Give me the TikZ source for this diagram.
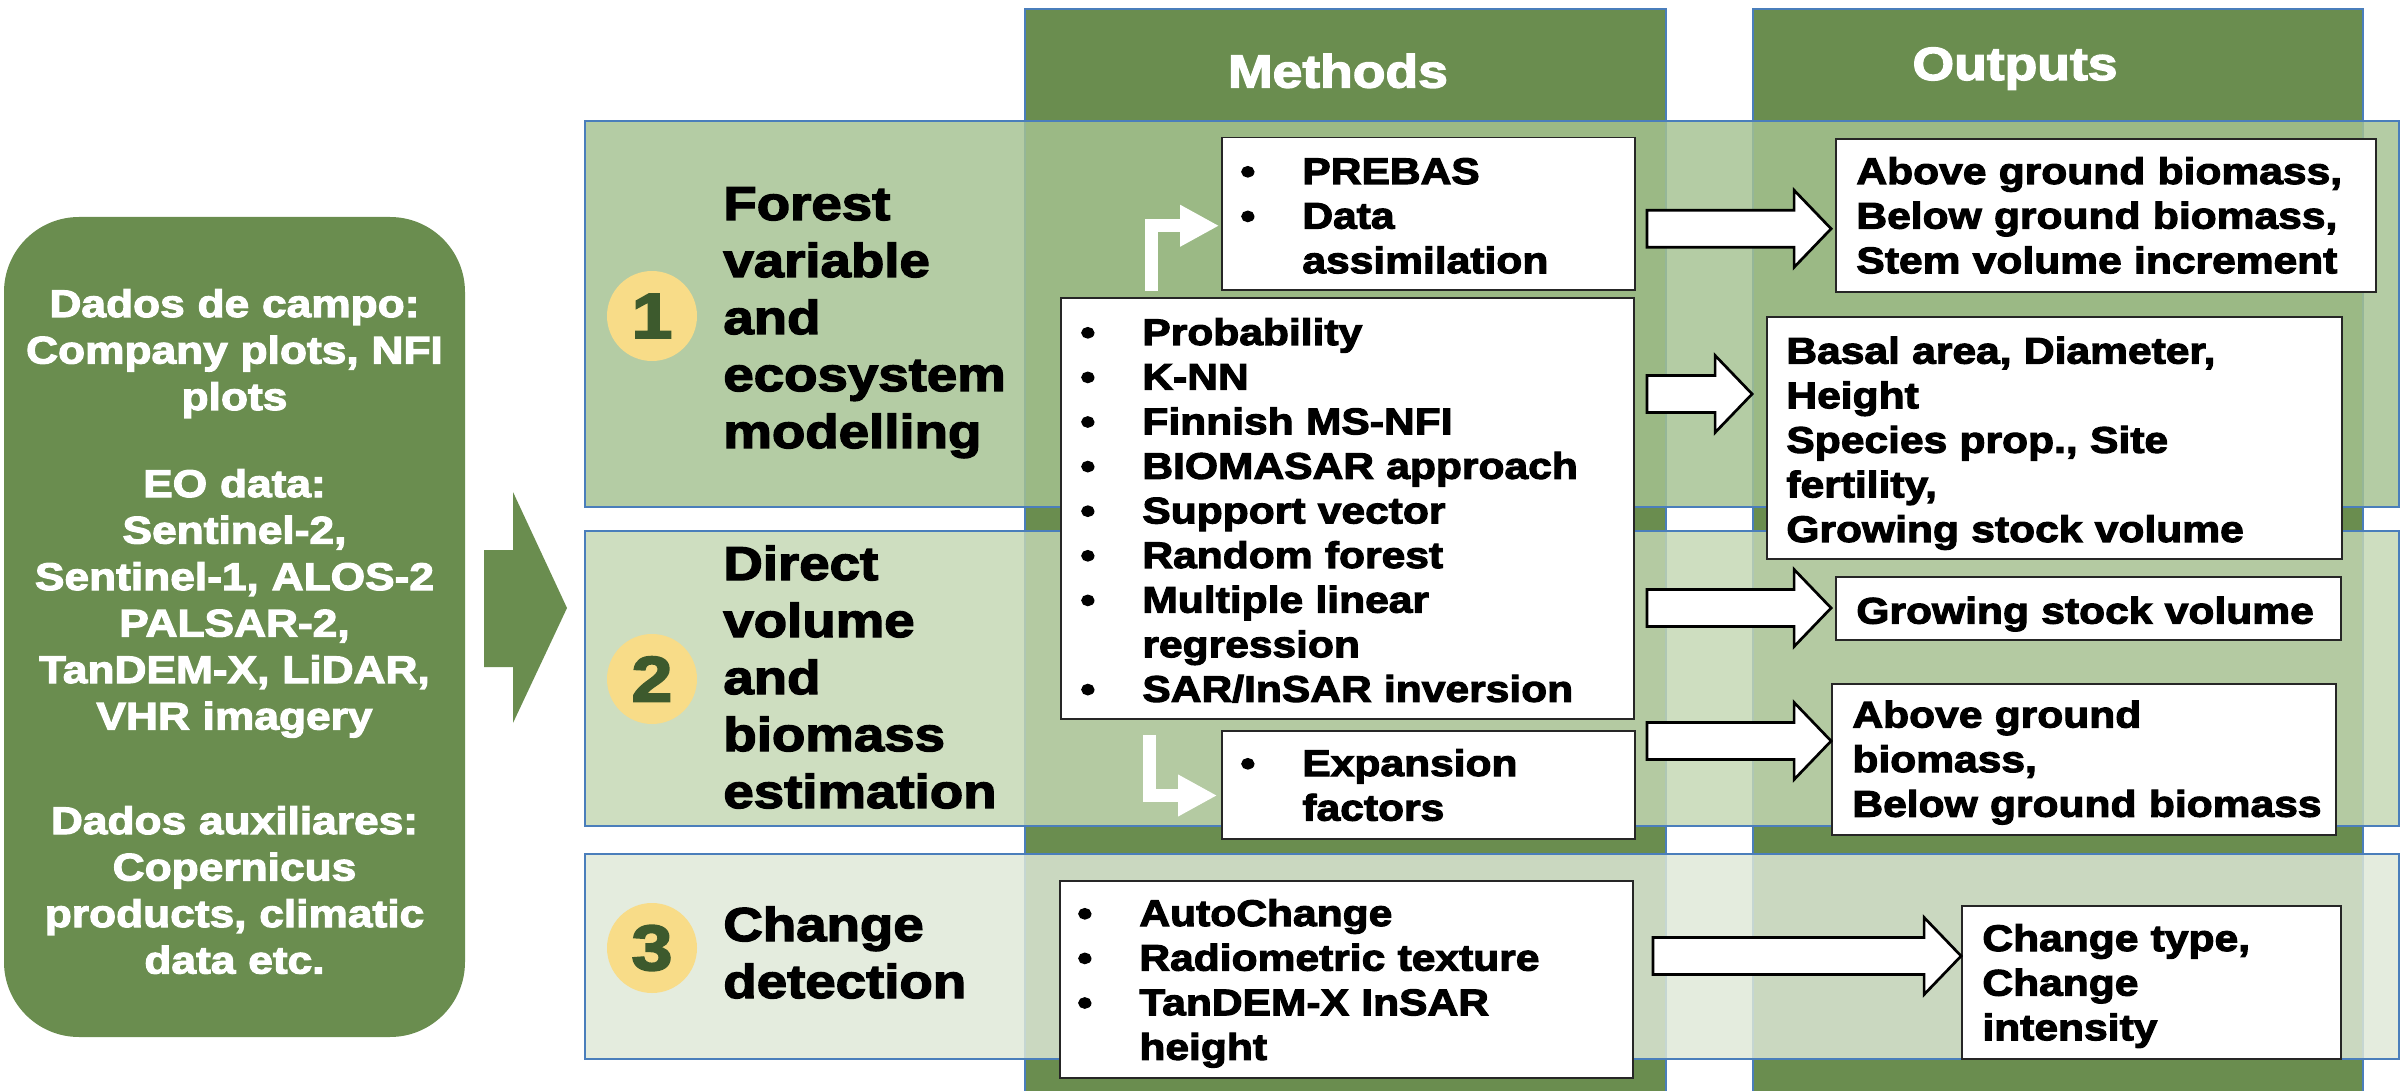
\documentclass[tikz,border=0pt]{standalone}
\usepackage{fontspec}
\setmainfont{Liberation Sans}[FakeStretch=1.15, FakeBold=3]
\usetikzlibrary{calc,fit,arrows.meta}

\definecolor{dgreen}{HTML}{6A8D4F}
\definecolor{bandblue}{HTML}{4A7EBB}
\definecolor{rowA}{RGB}{165,194,145}
\definecolor{rowB}{RGB}{196,215,179}
\definecolor{rowC}{RGB}{222,232,215}
\definecolor{numyellow}{HTML}{F8DC88}
\definecolor{numgreen}{HTML}{3D5A2D}

% bulleted line and its continuation
\newcommand\bl[1]{\makebox[31pt][l]{\textbullet}#1}
\newcommand\cl[1]{\hspace*{31pt}#1}

% white block arrow from #1 (tail) to #2 (tip), both at the same height
\newcommand\blockarrow[2]{%
  \draw[barrow] let \p1=(#1), \p2=(#2) in
    (\x1,\y1+9.25pt) -- (\x2-18.5pt,\y1+9.25pt) -- (\x2-18.5pt,\y1+19.25pt)
    -- (\x2,\y1) -- (\x2-18.5pt,\y1-19.25pt) -- (\x2-18.5pt,\y1-9.25pt)
    -- (\x1,\y1-9.25pt) -- cycle;}

\tikzset{
  rowband/.style={draw=bandblue, line width=1.2pt, fill opacity=0.83, inner sep=0pt},
  srcbox/.style={fill=dgreen, rounded corners=37.5pt, inner sep=0pt},
  numdisc/.style={circle, fill=numyellow, minimum size=45pt, inner sep=0pt,
    text=numgreen, font=\fontsize{32}{32}\selectfont\bfseries},
  rowtitle/.style={anchor=base west, inner sep=0pt, align=left, text width=300pt,
    font=\fontsize{23.75}{28.5}\selectfont\bfseries},
  headtxt/.style={anchor=base, inner sep=0pt, text=white,
    font=\fontsize{23.25}{28}\selectfont\bfseries},
  wbox/.style={fill=white, draw=black!85, line width=0.9pt, inner sep=0pt},
  btxt/.style={anchor=base west, inner sep=0pt, align=left, text width=300pt,
    font=\fontsize{18.5}{22.3}\selectfont\bfseries},
  srctxt/.style={anchor=base, inner sep=0pt, align=center, text width=225pt, text=white,
    font=\fontsize{19.25}{23.25}\selectfont\bfseries},
  barrow/.style={fill=white, draw=black, line width=1.35pt, line join=miter},
  bentarrow/.style={draw=white, line width=6.75pt, line join=miter,
    -{Triangle[length=19.5pt,width=19.5pt]}},
}

\begin{document}
\begin{tikzpicture}[x=0.5pt, y=-0.5pt]
\useasboundingbox (0,0) rectangle (2406,1091);

% header columns
\fill[dgreen] (1025,9) rectangle (1666,1091);
\draw[bandblue, line width=1pt] (1025,1091) -- (1025,9) -- (1666,9) -- (1666,1091);
\fill[dgreen] (1753,9) rectangle (2363,1091);
\draw[bandblue, line width=1pt] (1753,1091) -- (1753,9) -- (2363,9) -- (2363,1091);
\node[headtxt] (hm) at (1338,87.5) {Methods};
\node[headtxt] (ho) at (2015,80) {Outputs};

% row bands
\node[rowband, fill=rowA, fit={(585,121) (2399,507)}] (r1) {};
\node[rowband, fill=rowB, fit={(585,531) (2399,826)}] (r2) {};
\node[rowband, fill=rowC, fit={(585,854) (2399,1059)}] (r3) {};

% input data box and its arrow
\node[srcbox, fit={(4,217) (465,1037)}] (src) {};
\node[srctxt] (srcA) at (234.5,317) {Dados de campo:\\Company plots, NFI\\plots};
\node[srctxt] (srcB) at (234.5,497) {EO data:\\Sentinel-2,\\Sentinel-1, ALOS-2\\PALSAR-2,\\TanDEM-X, LiDAR,\\VHR imagery};
\node[srctxt] (srcC) at (234.5,834) {Dados auxiliares:\\Copernicus\\products, climatic\\data etc.};
\fill[dgreen] (484,550) -- (513,550) -- (513,492) -- (567,608) -- (513,723)
  -- (513,667) -- (484,667) -- cycle;

% numbered row titles
\node[numdisc] (n1) at (652,316) {1};
\node[numdisc] (n2) at (652,679) {2};
\node[numdisc] (n3) at (652,948) {3};
\node[rowtitle] (t1) at (723,220) {Forest\\variable\\and\\ecosystem\\modelling};
\node[rowtitle] (t2) at (723,580) {Direct\\volume\\and\\biomass\\estimation};
\node[rowtitle] (t3) at (723,941) {Change\\detection};

% method boxes
\node[wbox, fit={(1222,137.5) (1635,290)}] (m1) {};
\node[wbox, fit={(1061,298) (1634,719)}] (m2) {};
\node[wbox, fit={(1222,731) (1635,839)}] (m3) {};
\node[wbox, fit={(1060,881) (1633,1078)}] (m4) {};
\node[btxt] (m1t) at (1240,184) {\bl{PREBAS}\\\bl{Data}\\\cl{assimilation}};
\node[btxt] (m2t) at (1080,345) {\bl{Probability}\\\bl{K-NN}\\\bl{Finnish MS-NFI}\\\bl{BIOMASAR approach}\\\bl{Support vector}\\\bl{Random forest}\\\bl{Multiple linear}\\\cl{regression}\\\bl{SAR/InSAR inversion}};
\node[btxt] (m3t) at (1240,776) {\bl{Expansion}\\\cl{factors}};
\node[btxt] (m4t) at (1077,926) {\bl{AutoChange}\\\bl{Radiometric texture}\\\bl{TanDEM-X InSAR}\\\cl{height}};

% output boxes
\node[wbox, fit={(1836,139) (2376,292)}] (o1) {};
\node[wbox, fit={(1767,317) (2342,559)}] (o2) {};
\node[wbox, fit={(1836,577) (2341,640)}] (o3) {};
\node[wbox, fit={(1832,684) (2336,835)}] (o4) {};
\node[wbox, fit={(1962,906) (2341,1059)}] (o5) {};
\node[btxt] (o1t) at (1856,184) {Above ground biomass,\\Below ground biomass,\\Stem volume increment};
\node[btxt] (o2t) at (1786,363.6) {Basal area, Diameter,\\Height\\Species prop., Site\\fertility,\\Growing stock volume};
\node[btxt] (o3t) at (1856,623.6) {Growing stock volume};
\node[btxt] (o4t) at (1852,727.5) {Above ground\\biomass,\\Below ground biomass};
\node[btxt] (o5t) at (1982,951) {Change type,\\Change\\intensity};

% block arrows from methods to outputs
\coordinate (a1s) at ($(m1.east)+(11,15)$);
\coordinate (a2s) at ($(m2.east |- 0,394)+(12,0)$);
\coordinate (a3s) at ($(m2.east |- 0,608)+(12,0)$);
\coordinate (a4s) at ($(m3.east |- 0,741)+(11,0)$);
\coordinate (a5s) at ($(m4.east |- 0,956)+(19,0)$);
\coordinate (a1e) at ($(a1s -| o1.west)+(-4,0)$);
\coordinate (a2e) at ($(a2s -| o2.west)+(-14,0)$);
\coordinate (a3e) at ($(a3s -| o3.west)+(-4,0)$);
\coordinate (a4e) at ($(a4s -| o4.west)$);
\coordinate (a5e) at ($(a5s -| o5.west)$);
\blockarrow{a1s}{a1e}
\blockarrow{a2s}{a2e}
\blockarrow{a3s}{a3e}
\blockarrow{a4s}{a4e}
\blockarrow{a5s}{a5e}

% bent arrows from the central method box
\coordinate (b1s) at ($(m2.north west)+(91.5,-6)$);
\coordinate (b1e) at ($(m1.west)+(-2,12)$);
\coordinate (b2s) at ($(m2.south west)+(89.5,15)$);
\coordinate (b2e) at ($(m3.west |- 0,795.5)+(-4,0)$);
\draw[bentarrow] (b1s) |- (b1e);
\draw[bentarrow] (b2s) |- (b2e);
\end{tikzpicture}
\end{document}
